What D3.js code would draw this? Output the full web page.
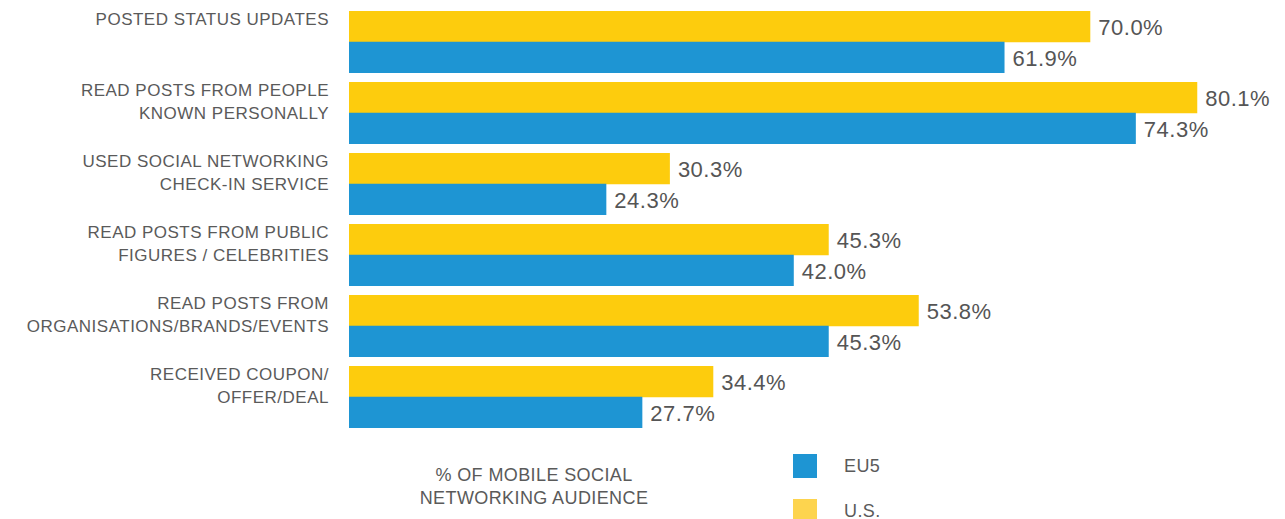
<!DOCTYPE html>
<html lang="en">
<head>
  <meta charset="UTF-8">
  <title>Mobile social networking activities</title>
  <style>
    body { margin: 0; background: #fff; }
    svg { display: block; font-family: "Liberation Sans", Arial, sans-serif; }
    .cat { fill: #5a5a5a; font-size: 17px; letter-spacing: 0.5px; }
    .val { fill: #555; font-size: 22px; letter-spacing: 0.5px; }
    .note { fill: #5a5a5a; font-size: 18px; letter-spacing: 0.4px; }
  </style>
</head>
<body>
  <div id="chart"></div>

  <script src="https://d3js.org/d3.v7.min.js"></script>
  <script>
    // categories (two-line labels)
    const categories = [
      ["POSTED STATUS UPDATES"],
      ["READ POSTS FROM PEOPLE", "KNOWN PERSONALLY"],
      ["USED SOCIAL NETWORKING", "CHECK-IN SERVICE"],
      ["READ POSTS FROM PUBLIC", "FIGURES / CELEBRITIES"],
      ["READ POSTS FROM", "ORGANISATIONS/BRANDS/EVENTS"],
      ["RECEIVED COUPON/", "OFFER/DEAL"]
    ];
    const usValues  = [70.0, 80.1, 30.3, 45.3, 53.8, 34.4];
    const eu5Values = [61.9, 74.3, 24.3, 42.0, 45.3, 27.7];
    const seriesNames = ["U.S.", "EU5"];
    const axisTitle = ["% OF MOBILE SOCIAL", "NETWORKING AUDIENCE"];

    const width = 1285;
    const height = 519;

    const svg = d3.select("#chart")
      .append("svg")
      .attr("width", width)
      .attr("height", height);

    const x = d3.scaleLinear().domain([0, 100]).range([349, 349 + 1059]);

    // one row every 71px, 9.5px gap between rows
    const step = 71, gap = 9.5;
    const y = d3.scaleBand()
      .domain(d3.range(categories.length))
      .range([11, 11 + step * categories.length - gap])
      .paddingInner(gap / step)
      .paddingOuter(0);

    const sub = d3.scaleBand()
      .domain(seriesNames)
      .range([0, y.bandwidth()]);

    const color = d3.scaleOrdinal()
      .domain(seriesNames)
      .range(["#fdcc0d", "#1e95d3"]);

    const rows = categories.map((c, i) => ({ i, label: c, vals: [
      { key: "U.S.", v: usValues[i] },
      { key: "EU5", v: eu5Values[i] }
    ]}));

    const g = svg.selectAll("g.row")
      .data(rows)
      .enter().append("g")
      .attr("class", "row")
      .attr("transform", d => `translate(0,${y(d.i)})`);

    // category labels
    g.append("text")
      .attr("class", "cat")
      .attr("text-anchor", "end")
      .selectAll("tspan")
      .data(d => d.label)
      .enter().append("tspan")
      .attr("x", 329)
      .attr("y", (d, k) => 14 + k * 23)
      .text(d => d);

    // bars
    g.selectAll("rect")
      .data(d => d.vals)
      .enter().append("rect")
      .attr("x", x(0))
      .attr("y", d => sub(d.key))
      .attr("width", d => x(d.v) - x(0))
      .attr("height", sub.bandwidth() + 0.5)
      .attr("fill", d => color(d.key));

    // value labels
    g.selectAll("text.val")
      .data(d => d.vals)
      .enter().append("text")
      .attr("class", "val")
      .attr("x", d => x(d.v) + 8)
      .attr("y", d => sub(d.key) + sub.bandwidth() / 2 + 8.5)
      .text(d => d.v.toFixed(1) + "%");

    // axis note
    svg.append("text")
      .attr("class", "note")
      .attr("text-anchor", "middle")
      .selectAll("tspan")
      .data(axisTitle)
      .enter().append("tspan")
      .attr("x", 534)
      .attr("y", (d, k) => 481 + k * 23)
      .text(d => d);

    // legend
    const legend = [
      { name: "EU5", fill: "#1e95d3", y: 454 },
      { name: "U.S.", fill: "#fdd44e", y: 499 }
    ];
    const lg = svg.selectAll("g.legend")
      .data(legend)
      .enter().append("g")
      .attr("class", "legend")
      .attr("transform", d => `translate(793,${d.y})`);
    lg.append("rect")
      .attr("width", 24)
      .attr("height", 24)
      .attr("fill", d => d.fill);
    lg.append("text")
      .attr("class", "note")
      .attr("x", 51)
      .attr("y", 18)
      .text(d => d.name);
  </script>
</body>
</html>
